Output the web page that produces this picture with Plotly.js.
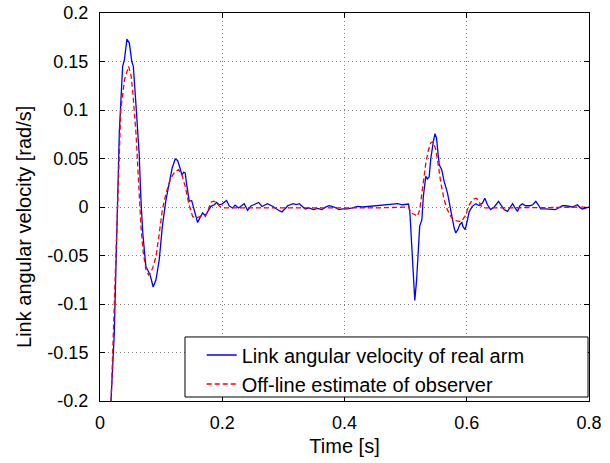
<!DOCTYPE html>
<html>
<head>
<meta charset="utf-8">
<script src="https://cdn.plot.ly/plotly-3.0.1.min.js"></script>
<style>html,body{margin:0;padding:0;background:#fff;}#chart{width:610px;height:463px;}</style>
</head>
<body>
<div id="chart"></div>
<script>
// Time [s] and link angular velocity [rad/s] of the real arm (blue solid)
const timeReal = [0.0155,0.018,0.0234,0.027,0.0316,0.037,0.040,0.044,0.048,0.052,0.0545,0.059,0.064,0.067,0.070,0.075,0.0795,0.082,0.087,0.0916,0.097,0.102,0.108,0.113,0.118,0.123,0.127,0.130,0.134,0.137,0.1395,0.1416,0.146,0.150,0.154,0.1597,0.1635,0.168,0.172,0.176,0.1815,0.187,0.1907,0.195,0.1995,0.207,0.2115,0.217,0.221,0.2267,0.236,0.2414,0.247,0.2594,0.265,0.274,0.283,0.292,0.2976,0.304,0.307,0.316,0.321,0.326,0.330,0.3357,0.342,0.349,0.356,0.363,0.369,0.375,0.383,0.391,0.397,0.405,0.413,0.421,0.430,0.441,0.452,0.462,0.470,0.478,0.487,0.495,0.503,0.5047,0.507,0.510,0.513,0.515,0.518,0.521,0.523,0.5266,0.529,0.533,0.5355,0.5385,0.541,0.545,0.548,0.5505,0.5527,0.555,0.559,0.563,0.5685,0.5724,0.5766,0.5794,0.582,0.5854,0.5887,0.592,0.5937,0.5974,0.600,0.604,0.609,0.615,0.620,0.6257,0.6296,0.634,0.639,0.645,0.652,0.656,0.661,0.6666,0.670,0.675,0.679,0.683,0.687,0.691,0.696,0.703,0.708,0.713,0.717,0.721,0.729,0.7375,0.745,0.750,0.7565,0.762,0.768,0.773,0.781,0.785,0.789,0.796,0.800];
const velReal = [-0.25,-0.200,-0.130,-0.027,0.077,0.145,0.152,0.173,0.169,0.150,0.145,0.104,0.056,0.0075,-0.027,-0.061,-0.068,-0.070,-0.0825,-0.075,-0.054,-0.020,0.0075,0.025,0.040,0.0495,0.048,0.042,0.033,0.036,0.035,0.024,0.006,0.0065,-0.003,-0.016,-0.011,-0.006,-0.009,-0.0045,0.0007,0.0023,0.0047,0.0023,0.003,0.0068,0.001,-0.001,0.002,-0.001,0.0034,-0.0033,0.001,0.0047,0.0005,0.0034,0.0005,-0.0034,-0.005,-0.001,0.0013,0.0034,0.0025,0.0034,0.001,-0.002,-0.001,-0.0027,-0.0015,-0.0027,-0.0002,0.0013,0.0,-0.0027,-0.002,-0.002,-0.001,0.0007,0.0,0.0007,0.0013,0.0013,0.0023,0.0023,0.0034,0.0023,0.0023,0.003,-0.006,-0.044,-0.082,-0.0963,-0.075,-0.034,-0.020,-0.013,0.011,0.0316,0.029,0.031,0.049,0.066,0.0756,0.071,0.0557,0.0436,0.0385,0.0264,0.0144,0.0006,-0.013,-0.0217,-0.0268,-0.0234,-0.018,-0.016,-0.020,-0.0234,-0.0165,-0.005,0.0007,0.0034,0.0015,0.004,0.009,0.0023,-0.0027,0.0,0.0058,0.0025,-0.0027,-0.0045,-0.001,0.0034,-0.001,-0.0045,0.0013,0.0034,0.0013,0.0013,0.0023,0.0058,0.0023,-0.002,-0.002,-0.0027,-0.0027,-0.001,0.0013,0.0013,0.0007,0.0,0.0023,-0.0005,-0.002,-0.001,0.0];

// Off-line estimate of observer (red dashed)
const timeObs = [0.0155,0.018,0.0218,0.026,0.0305,0.034,0.040,0.0468,0.0507,0.0533,0.0589,0.063,0.067,0.0708,0.0752,0.0795,0.083,0.087,0.0916,0.097,0.102,0.108,0.116,0.123,0.1286,0.134,0.1395,0.145,0.1515,0.157,0.165,0.172,0.176,0.1815,0.186,0.190,0.195,0.200,0.25,0.30,0.35,0.40,0.45,0.505,0.5086,0.5156,0.519,0.523,0.5276,0.533,0.5374,0.541,0.545,0.5495,0.5537,0.5576,0.563,0.5685,0.574,0.5794,0.5876,0.5915,0.5985,0.6028,0.609,0.615,0.619,0.623,0.6285,0.65,0.70,0.75,0.80];
const velObs = [-0.25,-0.200,-0.130,-0.044,0.035,0.100,0.131,0.145,0.136,0.121,0.076,0.028,-0.020,-0.047,-0.0646,-0.070,-0.068,-0.061,-0.051,-0.027,-0.003,0.0144,0.030,0.0367,0.0385,0.033,0.021,0.004,-0.0097,-0.0113,-0.0097,-0.010,-0.005,0.005,0.006,0.005,0.001,-0.001,-0.001,-0.0015,-0.0015,-0.0015,-0.001,0.0,-0.006,-0.008,-0.0097,-0.003,0.018,0.045,0.059,0.066,0.0675,0.059,0.042,0.0247,0.0075,-0.003,-0.0097,-0.0138,-0.0148,-0.0148,-0.008,0.0006,0.0075,0.009,0.0075,0.0015,-0.001,-0.001,-0.0008,-0.0005,0.0];

const seriesNames = ['Link angular velocity of real arm', 'Off-line estimate of observer'];
const xTickVals = [0, 0.2, 0.4, 0.6, 0.8];
const xTickText = ['0', '0.2', '0.4', '0.6', '0.8'];
const yTickVals = [-0.2, -0.15, -0.1, -0.05, 0, 0.05, 0.1, 0.15, 0.2];
const yTickText = ['-0.2', '-0.15', '-0.1', '-0.05', '0', '0.05', '0.1', '0.15', '0.2'];
const xTitle = 'Time [s]';
const yTitle = 'Link angular velocity [rad/s]';

const FONT = 'Liberation Sans, Arial, Helvetica, sans-serif';

const traces = [
  {x: timeReal, y: velReal, name: seriesNames[0], type: 'scatter', mode: 'lines',
   line: {color: '#0000ff', width: 1.3}},
  {x: timeObs, y: velObs, name: seriesNames[1], type: 'scatter', mode: 'lines',
   line: {color: '#ff0000', width: 1.3, dash: '5px,3px'}}
];

const axisCommon = {
  showline: true, linecolor: '#000', linewidth: 1, mirror: 'ticks',
  ticks: 'inside', ticklen: 5, tickcolor: '#000', tickwidth: 1,
  showgrid: true, gridcolor: '#808080', gridwidth: 1, griddash: '1px,3px',
  zeroline: false, tickfont: {family: FONT, size: 18, color: '#000'}
};

const layout = {
  width: 610, height: 463,
  margin: {l: 100, r: 21, t: 13, b: 62},
  paper_bgcolor: '#fff', plot_bgcolor: '#fff',
  font: {family: FONT, color: '#000'},
  showlegend: true,
  xaxis: Object.assign({}, axisCommon, {
    range: [0, 0.8], tickmode: 'array', tickvals: xTickVals, ticktext: xTickText,
    ticklabelstandoff: 5,
    title: {text: xTitle, font: {family: FONT, size: 20, color: '#000'}, standoff: 7}
  }),
  yaxis: Object.assign({}, axisCommon, {
    range: [-0.2, 0.2], tickmode: 'array', tickvals: yTickVals, ticktext: yTickText,
    ticklabelstandoff: 7
  }),
  annotations: [{
    text: yTitle, textangle: -90, xref: 'paper', yref: 'paper',
    x: -0.1554, y: 0.4485, xanchor: 'center', yanchor: 'middle', showarrow: false,
    font: {family: FONT, size: 20, color: '#000'}
  }],
  legend: {
    x: 0.208, xanchor: 'left', y: 0.1688, yanchor: 'top',
    bgcolor: 'rgba(0,0,0,0)', borderwidth: 0,
    font: {family: FONT, size: 20, color: '#000'}
  },
  shapes: [{
    type: 'rect', xref: 'paper', yref: 'paper',
    x0: 0.1738, x1: 0.998, y0: 0.0103, y1: 0.165,
    line: {color: '#000', width: 1}, fillcolor: '#fff', layer: 'above'
  }]
};

Plotly.newPlot('chart', traces, layout, {displayModeBar: false, staticPlot: true});
</script>
</body>
</html>
